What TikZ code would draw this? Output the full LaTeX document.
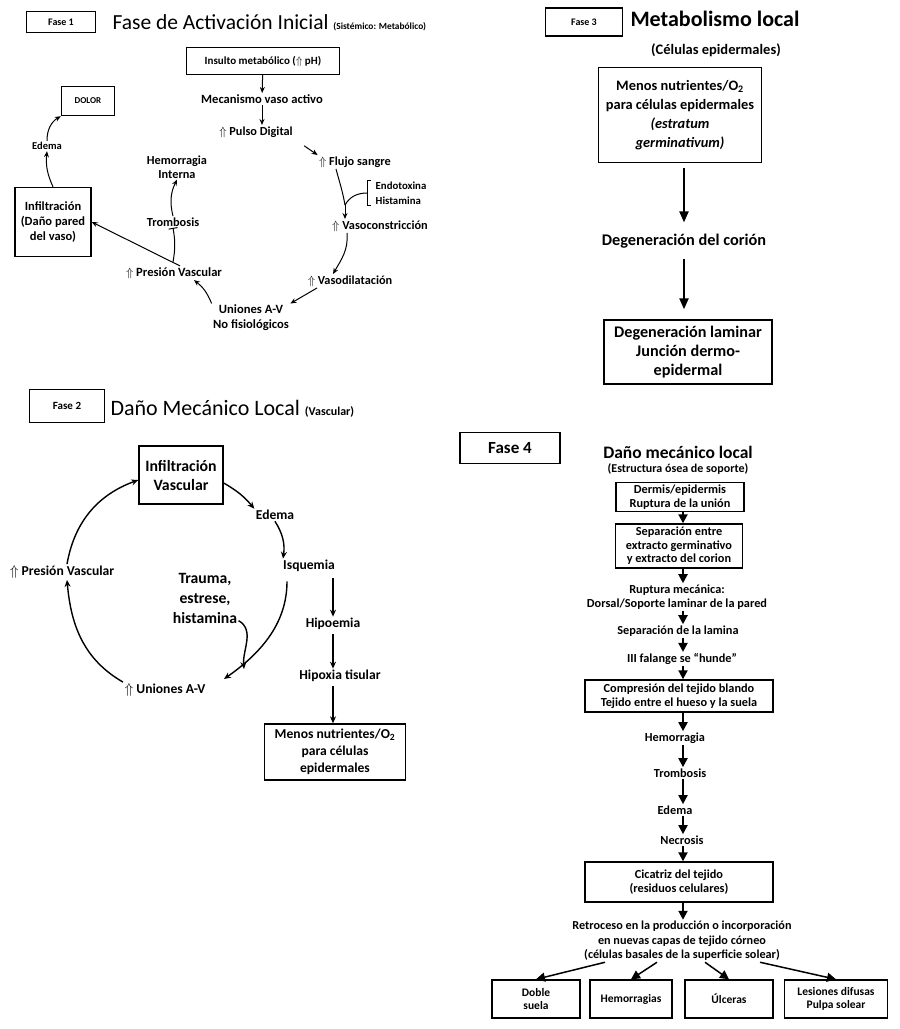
\documentclass[tikz,border=0pt]{standalone}
\usepackage{fontspec}
\setmainfont{Carlito}
\usetikzlibrary{arrows.meta}
\usetikzlibrary{positioning}

\begin{document}
\begin{tikzpicture}[x=1pt,y=1pt,>={Stealth[length=6pt,width=5pt]},line width=1pt,
    phase node/.style={draw,line width=1.4pt,font=\bfseries\fontsize{10}{11}\selectfont},
    title node/.style={anchor=west,inner sep=0pt,font=\fontsize{21.5}{23}\selectfont},
    small node/.style={align=center,inner sep=1pt,font=\bfseries\fontsize{12.3}{13.5}\selectfont},
    box node/.style={draw,line width=1.4pt,align=center,inner sep=2pt,font=\bfseries\fontsize{12.3}{13.5}\selectfont},
    big node/.style={align=center,inner sep=1pt,font=\bfseries\fontsize{15.7}{20}\selectfont},
    mid node/.style={align=center,inner sep=1pt,font=\bfseries\fontsize{13.6}{15}\selectfont},
    thick arrow/.style={->,>={Stealth[length=7pt,width=6pt]},line width=1.4pt},
    fat arrow/.style={-{Triangle[width=9pt,length=11pt]},line width=2.2pt},
    tri arrow/.style={-{Triangle[width=9pt,length=9pt]},line width=2pt}]
  \useasboundingbox (0,0) rectangle (900,-1029);

  % Fase 1
  \node[phase node,minimum width=69pt,minimum height=21pt] (f1) at (61,-22) {Fase 1};
  \node[title node] (t1) at (112,-23) {Fase de Activación Inicial {\bfseries\fontsize{9.4}{10}\selectfont (Sistémico: Metabólico)}};
  \node[box node,minimum width=153pt,minimum height=27pt,font=\bfseries\fontsize{11}{12}\selectfont] (insulto) at (263,-61) {Insulto metabólico ($\Uparrow$ pH)};
  \node[small node,font=\bfseries\fontsize{12.6}{14}\selectfont] (meca) at (262,-99) {Mecanismo vaso activo};
  \node[small node] (pulso) at (256,-132) {$\Uparrow$ Pulso Digital};
  \node[small node] (flujo) at (355,-162) {$\Uparrow$ Flujo sangre};
  \node[small node,align=left,font=\bfseries\fontsize{10.8}{15}\selectfont] (endo) at (401,-193) {Endotoxina\\Histamina};
  \node[small node] (vcons) at (380,-226) {$\Uparrow$ Vasoconstricción};
  \node[small node] (vdil) at (350,-281) {$\Uparrow$ Vasodilatación};
  \node[small node,font=\bfseries\fontsize{12.6}{15}\selectfont] (uniones1) at (251,-318) {Uniones A-V\\No fisiológicos};
  \node[small node,font=\bfseries\fontsize{12.6}{14}\selectfont] (presion1) at (174,-273) {$\Uparrow$ Presión Vascular};
  \node[small node] (tromb1) at (173,-222) {Trombosis};
  \node[small node] (hemo1) at (177,-167) {Hemorragia\\Interna};
  \node[box node,minimum width=76pt,minimum height=69pt,font=\bfseries\fontsize{12.5}{15}\selectfont] (infil1) at (53,-222) {Infiltración\\(Daño pared\\del vaso)};
  \node[small node,font=\bfseries\fontsize{10.5}{12}\selectfont] (edema1) at (47,-146) {Edema};
  \node[box node,minimum width=53pt,minimum height=29pt,font=\bfseries\fontsize{9}{10}\selectfont] (dolor) at (88,-101) {DOLOR};
  \coordinate (join1) at (345,-205);

  \path[->] (insulto) edge (meca);
  \path[->] (meca) edge (meca |- pulso.north);
  \draw[->,shorten <=12pt] (pulso.south east) -- (flujo.north west);
  \draw ([xshift=-19pt]flujo.south) to[out=-75,in=100] (join1);
  \draw[->] (join1) -- ([xshift=-35pt]vcons.north);
  \draw ([xshift=-3pt]endo.north west) -| ([xshift=-7pt]endo.west) |- ([xshift=-3pt]endo.south west);
  \draw ([xshift=-7pt]endo.west) to[out=180,in=60] (join1);
  \draw[->] ([xshift=-33pt]vcons.south) to[out=-85,in=60] ([xshift=-17pt]vdil.north);
  \draw[->] ([xshift=-33pt]vdil.south) -- (uniones1.north east);
  \draw[->] (uniones1.north west) to[bend right=15] ([xshift=20pt]presion1.south);
  \draw[->] ([xshift=6pt]presion1.north) -- coordinate[pos=0.08] (fork1) (infil1.east);
  \draw[-{Bar[width=9pt]}] (fork1) to[bend right=10] (tromb1.south);
  \draw[->] (tromb1.north) to[bend left=20] (hemo1.south);
  \draw[->] (infil1.north) to[bend left=15] (edema1.south);
  \draw[->] (edema1.north) to[bend left=30] (dolor.south west);

  % Fase 3
  \node[phase node,minimum width=77pt,minimum height=28pt] (f3) at (584,-22) {Fase 3};
  \node[title node,font=\bfseries\fontsize{22}{24}\selectfont] (t3) at (630,-19) {Metabolismo local};
  \node[small node,font=\bfseries\fontsize{14.5}{16}\selectfont] (cel3) at (716,-50) {(Células epidermales)};
  \node[box node,minimum width=163pt,minimum height=95pt,font=\bfseries\fontsize{14.4}{19}\selectfont] (menos3) at (680,-115) {Menos nutrientes/O\textsubscript{2}\\para células epidermales\\\textit{(estratum}\\\textit{germinativum)}};
  \node[big node,font=\bfseries\fontsize{16.3}{18}\selectfont] (degcor) at (684,-241) {Degeneración del corión};
  \node[box node,minimum width=168pt,minimum height=64pt,font=\bfseries\fontsize{16.2}{19}\selectfont] (deglam) at (688,-352) {Degeneración laminar\\Junción dermo-\\epidermal};

  \draw[fat arrow,shorten <=5pt,shorten >=10pt] (menos3.south -| degcor) -- (degcor.north);
  \draw[fat arrow,shorten <=9pt,shorten >=10pt] (degcor.south) -- (degcor |- deglam.north);

  % Fase 2
  \node[phase node,minimum width=75pt,minimum height=33pt,font=\bfseries\fontsize{11}{12}\selectfont] (f2) at (67,-406) {Fase 2};
  \node[title node,font=\fontsize{22}{24}\selectfont] (t2) at (110,-409) {Daño Mecánico Local {\bfseries\fontsize{12}{13}\selectfont (Vascular)}};
  \node[box node,minimum width=84pt,minimum height=58pt,font=\bfseries\fontsize{15.8}{19}\selectfont] (infil2) at (181,-475) {Infiltración\\Vascular};
  \node[mid node] (edema2) at (275,-515) {Edema};
  \node[mid node] (isq) at (309,-566) {Isquemia};
  \node[mid node] (hipoe) at (333,-624) {Hipoemia};
  \node[mid node] (hipox) at (340,-676) {Hipoxia tisular};
  \node[box node,minimum width=141pt,minimum height=56pt,font=\bfseries\fontsize{13.6}{17}\selectfont] (menos2) at (335,-752) {Menos nutrientes/O\textsubscript{2}\\para células\\epidermales};
  \node[big node] (trauma) at (205,-598) {Trauma,\\estrese,\\histamina};
  \node[mid node] (uniones2) at (165,-690) {$\Uparrow$ Uniones A-V};
  \node[mid node] (presion2) at (62,-572) {$\Uparrow$ Presión Vascular};
  \coordinate (avjoin) at (244,-669);

  \draw[thick arrow] ([yshift=-8pt]infil2.east) to[bend left=10] (edema2.north west);
  \draw[thick arrow] (edema2.south) to[bend left=20] ([xshift=-26pt]isq.north);
  \draw[thick arrow,shorten <=5pt] (hipoe.north |- isq.south) -- (hipoe.north);
  \draw[thick arrow,shorten <=3pt] (hipoe) -- (hipoe |- hipox.north);
  \draw[thick arrow,shorten <=3pt] (hipoe |- hipox.south) -- (hipoe |- menos2.north);
  \draw[thick arrow] ([yshift=4pt]trauma.south east) to[out=-30,in=95] (avjoin);
  \draw[thick arrow,shorten <=8pt] ([xshift=-22pt]isq.south) to[out=-90,in=35] ([xshift=17pt,yshift=11pt]uniones2.east);
  \draw[thick arrow] (uniones2.north west) to[out=150,in=-85] ([xshift=5pt]presion2.south);
  \draw[thick arrow] ([xshift=5pt]presion2.north) to[out=80,in=200] ([yshift=-5pt]infil2.west);

  % Fase 4
  \node[phase node,minimum width=100pt,minimum height=31pt,font=\bfseries\fontsize{17}{18}\selectfont] (f4) at (510,-448) {Fase 4};
  \node[small node,font=\bfseries\fontsize{17.5}{19}\selectfont] (t4) at (678,-452) {Daño mecánico local};
  \node[small node,font=\bfseries\fontsize{12}{13}\selectfont] (estr) at (678,-469) {(Estructura ósea de soporte)};
  \node[box node,minimum width=128pt,minimum height=29pt] (dermis) at (680,-497) {Dermis/epidermis\\Ruptura de la unión};
  \node[box node,minimum width=127pt,minimum height=44pt] (separ) at (679,-546) {Separación entre\\extracto germinativo\\y extracto del corion};
  \node[small node,font=\bfseries\fontsize{12.3}{14}\selectfont] (ruptura) at (677,-597) {Ruptura mecánica:\\Dorsal/Soporte laminar de la pared};
  \node[small node] (sepl) at (678,-631) {Separación de la lamina};
  \node[small node] (falange) at (682,-659) {III falange se “hunde”};
  \node[box node,minimum width=188pt,minimum height=32pt] (compr) at (679,-696) {Compresión del tejido blando\\Tejido entre el hueso y la suela};
  \node[small node] (hemo4) at (675,-738) {Hemorragia};
  \node[small node] (tromb4) at (680,-773) {Trombosis};
  \node[small node] (edema4) at (675,-810) {Edema};
  \node[small node] (necro) at (682,-840) {Necrosis};
  \node[box node,minimum width=188pt,minimum height=40pt] (cicat) at (679,-882) {Cicatriz del tejido\\(residuos celulares)};
  \node[small node,font=\bfseries\fontsize{12.2}{14.5}\selectfont] (retro) at (682,-941) {Retroceso en la producción o incorporación\\en nuevas capas de tejido córneo\\(células basales de la superficie solear)};
  \node[box node,minimum width=88pt,minimum height=38pt,font=\bfseries\fontsize{11.5}{13.5}\selectfont] (doble) at (536,-999) {Doble\\suela};
  \node[box node,minimum width=82pt,minimum height=38pt,font=\bfseries\fontsize{11.5}{13.5}\selectfont] (hemos) at (631,-999) {Hemorragias};
  \node[box node,minimum width=88pt,minimum height=38pt,font=\bfseries\fontsize{11.5}{13.5}\selectfont] (ulc) at (729,-999) {Úlceras};
  \node[box node,minimum width=103pt,minimum height=38pt,font=\bfseries\fontsize{11.5}{13.5}\selectfont] (lesion) at (836,-999) {Lesiones difusas\\Pulpa solear};
  \coordinate (col4) at (683,-450);

  \foreach \a/\b in {dermis/separ,separ/ruptura,ruptura/sepl,sepl/falange,falange/compr,compr/hemo4,hemo4/tromb4,tromb4/edema4,edema4/necro,necro/cicat,cicat/retro}
    \draw[tri arrow] (col4 |- \a.south) -- (col4 |- \b.north);
  \draw[tri arrow,line width=1.5pt] ([xshift=-77pt]retro.south) -- (doble.north);
  \draw[tri arrow,line width=1.5pt] ([xshift=-25pt]retro.south) -- (hemos.north);
  \draw[tri arrow,line width=1.5pt] ([xshift=23pt]retro.south) -- (ulc.north);
  \draw[tri arrow,line width=1.5pt] ([xshift=78pt]retro.south) -- (lesion.north);
\end{tikzpicture}
\end{document}
